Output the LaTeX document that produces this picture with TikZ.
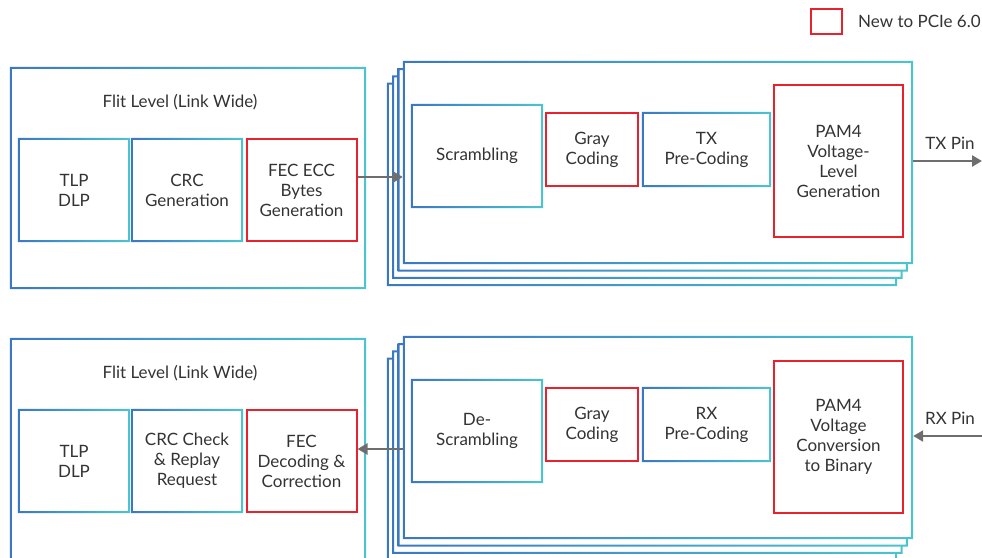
\documentclass[tikz,border=0pt]{standalone}
\usepackage{fontspec}
\setmainfont{Lato}
\usetikzlibrary{arrows.meta,calc}
\definecolor{cb}{HTML}{3B78C4}
\definecolor{cc}{HTML}{4CC4CE}
\definecolor{rd}{HTML}{E8222C}
\definecolor{ag}{HTML}{6E6E6E}
\definecolor{tx}{HTML}{333333}
% gradient frame around a named node
\newcommand\gfr[1]{%
  \shade[left color=cb,right color=cc,even odd rule]
    (#1.north west) rectangle (#1.south east)
    ([shift={(2pt,-2pt)}]#1.north west) rectangle ([shift={(-2pt,2pt)}]#1.south east);}
% one layer of the stack: white box with gradient frame
\newcommand\stacklayer[3]{%
  \node[layer] (#1) at (#2,#3) {};
  \gfr{#1}}
\begin{document}
\begin{tikzpicture}[x=1pt,y=-1pt,
  font=\fontsize{17}{20}\selectfont, text=tx,
  gb/.style={inner sep=0pt, align=center, text=tx},
  rb/.style={gb, draw=rd, line width=2pt},
  layer/.style={gb, fill=white, minimum width=510pt, minimum height=203pt},
  arr/.style={draw=ag, line width=2.4pt, -{Triangle[length=10pt,width=11pt]}},
  lbl/.style={inner sep=0pt, text=tx}]
\useasboundingbox (0,0) rectangle (982,557);
\clip (0,0) rectangle (982,557);

% ---------- legend ----------
\node[rb, minimum width=31pt, minimum height=25pt] (leg) at (826.5,21.5) {};
\node[lbl, anchor=west] (legt) at (858,21) {New to PCIe 6.0};

% ---------- TX path ----------
\node[gb, minimum width=356pt, minimum height=222pt] (flit) at (188,178) {};
\gfr{flit}
\node[lbl] (flitt) at (180,102) {Flit Level (Link Wide)};
\node[gb, minimum width=112pt, minimum height=104pt] (tlp) at (74,190) {TLP\\DLP};
\gfr{tlp}
\node[gb, minimum width=112pt, minimum height=104pt] (crc) at (187,190) {CRC\\Generation};
\gfr{crc}
\node[rb, minimum width=110pt, minimum height=102pt] (fec) at (301.5,190) {FEC ECC\\Bytes\\Generation};

\stacklayer{tl3}{642}{184.4}
\stacklayer{tl2}{647.4}{177.1}
\stacklayer{tl1}{652.7}{169.8}
\stacklayer{tl0}{658}{162.5}

\node[gb, minimum width=132pt, minimum height=104pt] (scr) at (477,156) {Scrambling};
\gfr{scr}
\node[rb, minimum width=92pt, minimum height=73pt] (gray) at (592,149.5) {Gray\\Coding};
\node[gb, minimum width=129pt, minimum height=75pt] (txpre) at (706.5,149.5) {TX\\Pre-Coding};
\gfr{txpre}
\node[rb, minimum width=129pt, minimum height=152pt] (pam) at (838.5,161) {PAM4\\Voltage-\\Level\\Generation};

\draw[arr] ([yshift=13pt]fec.east) -- ([yshift=13pt]fec.east -| tl0.west);
\coordinate (txend) at (982,161);
\draw[arr] (tl0.east |- txend) -- (txend);
\node[lbl] (txpin) at (950,143) {TX Pin};

% ---------- RX path ----------
\node[gb, minimum width=356pt, minimum height=222pt] (flitb) at (188,449) {};
\gfr{flitb}
\node[lbl] (flitbt) at (180,373) {Flit Level (Link Wide)};
\node[gb, minimum width=112pt, minimum height=104pt] (tlpb) at (74,461) {TLP\\DLP};
\gfr{tlpb}
\node[gb, minimum width=112pt, minimum height=104pt] (crcb) at (187,461) {CRC Check\\\& Replay\\Request};
\gfr{crcb}
\node[rb, minimum width=110pt, minimum height=102pt] (fecb) at (301.5,461) {FEC\\Decoding \&\\Correction};

\stacklayer{bl3}{642}{459.4}
\stacklayer{bl2}{647.4}{452.1}
\stacklayer{bl1}{652.7}{444.8}
\stacklayer{bl0}{658}{437.5}

\node[gb, minimum width=132pt, minimum height=104pt] (dscr) at (477,431) {De-\\Scrambling};
\gfr{dscr}
\node[rb, minimum width=92pt, minimum height=73pt] (grayb) at (592,424.5) {Gray\\Coding};
\node[gb, minimum width=129pt, minimum height=75pt] (rxpre) at (706.5,424.5) {RX\\Pre-Coding};
\gfr{rxpre}
\node[rb, minimum width=129pt, minimum height=152pt] (pamb) at (838.5,437) {PAM4\\Voltage\\Conversion\\to Binary};

\draw[arr] ([yshift=-11.5pt]bl0.west) -- ([yshift=-11.5pt]bl0.west -| fecb.east);
\coordinate (rxstart) at (982,436);
\draw[arr] (rxstart) -- (rxstart -| bl0.east);
\node[lbl] (rxpin) at (950,418) {RX Pin};
\end{tikzpicture}
\end{document}
